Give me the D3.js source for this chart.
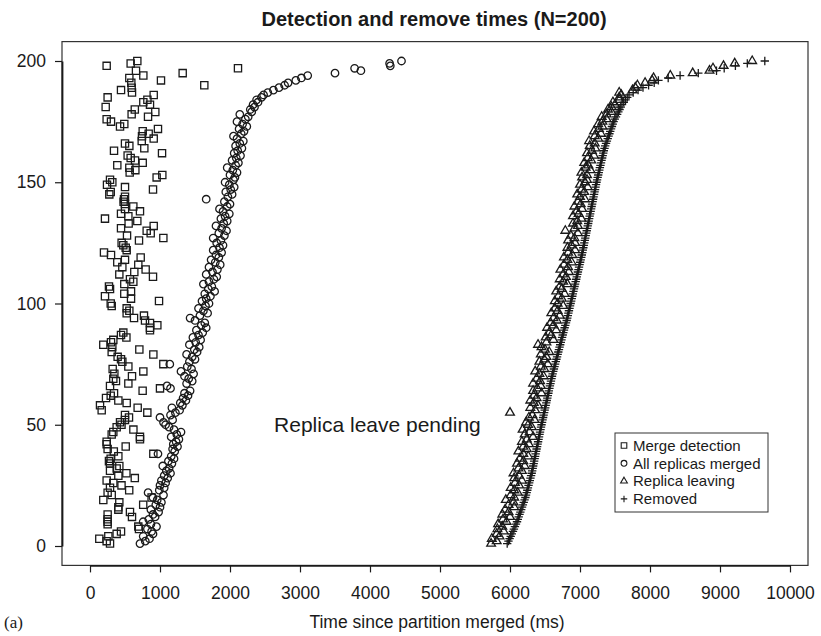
<!DOCTYPE html>
<html><head><meta charset="utf-8">
<script src="https://cdn.jsdelivr.net/npm/d3@7"></script>
<style>body{margin:0;background:#fff}svg{display:block;font-family:"Liberation Sans",Arial,Helvetica,sans-serif}</style>
</head><body><svg id="c" width="821" height="636"></svg>
<script>
// y = experiment index (1..200, ordered by removal time); values = time in ms
const mergeDetection = [
286,238,133,262,381,443,700,690,252,252,
252,600,252,571,405,405,760,419,190,880,
310,252,560,286,450,333,238,640,405,520,
286,381,419,286,271,295,405,905,340,252,
510,238,238,714,714,310,333,620,381,450,
429,500,557,500,819,167,681,143,524,405,
229,296,343,752,1000,286,548,371,333,600,
348,762,324,548,1048,462,443,395,905,310,
705,319,190,300,333,520,443,476,857,857,
962,857,786,629,771,524,562,524,310,296,
986,586,214,490,586,286,271,490,619,571,
900,419,633,795,462,690,390,500,724,300,
200,524,510,476,452,700,1048,529,867,810,
443,910,552,676,214,548,443,714,500,619,
500,480,486,500,276,296,900,500,243,319,
286,952,1033,567,648,562,390,753,643,581,
538,1029,343,776,562,500,739,910,743,838,
753,971,429,490,300,238,829,595,933,640,
224,857,762,820,252,910,600,443,595,1633,
590,1014,562,762,1324,657,2114,238,581,676];

const allReplicasMerged = [
714,790,850,760,900,880,820,950,870,760,
840,930,900,980,870,1000,940,1020,960,900,
1050,830,990,1060,1000,1080,1020,1110,1060,1150,
1090,1130,1040,1170,1120,1200,1160,971,1210,1180,
1250,1190,1230,1270,1160,1240,1300,1200,1130,1080,
1050,1180,1000,1150,1220,1280,1170,1320,1290,1370,
1330,1400,1350,1430,1150,1100,1380,1460,1410,1350,
1480,1300,1450,1390,1140,1420,1500,1460,1380,1530,
1490,1560,1420,1510,1580,1470,1550,1610,1520,1660,
1590,1640,1500,1430,1570,1680,1620,1550,1650,1700,
1600,1660,1720,1640,1780,1690,1740,1620,1700,1770,
1810,1660,1750,1820,1700,1860,1790,1730,1840,1800,
1880,1760,1850,1900,1810,1870,1760,1920,1840,1950,
1880,1800,1910,1960,1870,1930,1990,1900,1850,1960,
2000,1920,1660,1970,2030,1940,2010,2060,1990,1930,
2050,2070,2000,2100,2040,1960,2080,2120,2030,2090,
2150,2060,2110,2170,2080,2140,2190,2100,2050,2160,
2200,2130,2240,2180,2100,2220,2260,2140,2310,2290,
2350,2330,2400,2380,2450,2480,2540,2620,2700,2780,
2830,2940,3020,3110,3500,3870,3780,4290,4280,4450];

const replicaLeaving = [
5730,5810,5740,5850,5810,5910,5820,5890,5830,5950,
5900,6000,5890,5980,5930,6060,5980,6050,5940,6060,
6010,6110,6060,6010,6130,6070,6170,6060,6130,6050,
6170,6120,6210,6100,6190,6140,6260,6190,6120,6240,
6190,6270,6170,6240,6330,6210,6280,6180,6310,6260,
6230,6350,6270,6320,6000,6360,6290,6400,6340,6290,
6380,6340,6450,6330,6390,6440,6330,6430,6380,6480,
6420,6360,6490,6440,6540,6420,6490,6520,6440,6560,
6500,6450,6400,6520,6620,6510,6590,6560,6660,6530,
6620,6580,6670,6620,6710,6590,6680,6640,6760,6680,
6640,6740,6690,6780,6660,6740,6710,6820,6760,6710,
6800,6760,6840,6720,6830,6770,6880,6820,6770,6890,
6830,6930,6820,6880,6930,6830,6920,6870,6970,6790,
6920,6970,6900,6960,7020,6900,6980,6950,7030,6920,
7010,6970,7070,7000,6960,7060,7020,7110,7000,7070,
7100,7030,7100,7020,7150,7080,7120,7060,7160,7110,
7200,7100,7170,7220,7140,7210,7130,7260,7210,7300,
7200,7270,7320,7260,7320,7380,7310,7380,7450,7400,
7450,7500,7470,7560,7560,7590,7560,7750,7790,7820,
7930,8030,8050,8290,8610,8850,8900,9050,9210,9460];

const removed = [
5960,5978,5994,6010,6026,6042,6056,6070,6085,6100,
6112,6124,6136,6148,6160,6172,6184,6196,6208,6220,
6229,6238,6247,6256,6265,6274,6283,6292,6301,6310,
6317,6324,6331,6338,6345,6352,6359,6366,6373,6380,
6387,6394,6401,6408,6415,6422,6429,6436,6443,6450,
6458,6465,6473,6480,6488,6495,6503,6510,6518,6525,
6533,6540,6548,6555,6563,6570,6578,6585,6593,6600,
6609,6618,6627,6636,6645,6654,6663,6672,6681,6690,
6699,6708,6717,6726,6735,6744,6753,6762,6771,6780,
6790,6800,6810,6818,6826,6834,6842,6850,6858,6866,
6874,6882,6890,6898,6906,6914,6922,6930,6938,6946,
6954,6962,6970,6978,6986,6994,7002,7010,7018,7026,
7033,7040,7047,7054,7061,7068,7075,7082,7089,7096,
7103,7110,7117,7124,7131,7138,7145,7152,7159,7166,
7173,7180,7187,7194,7201,7208,7215,7222,7229,7236,
7244,7252,7260,7268,7276,7284,7292,7300,7308,7316,
7324,7332,7340,7350,7360,7372,7384,7396,7408,7420,
7432,7444,7456,7468,7480,7497,7514,7531,7548,7565,
7582,7600,7625,7650,7675,7700,7760,7830,7900,7980,
8060,8120,8260,8430,8690,8950,9060,9220,9390,9640];

const seriesNames = ["Merge detection", "All replicas merged", "Replica leaving", "Removed"];
const xTicks = [0,1000,2000,3000,4000,5000,6000,7000,8000,9000,10000];
const yTicks = [0,50,100,150,200];

const ink = "#1a1a1a";
const svg = d3.select("#c");
const x = d3.scaleLinear().domain([0, 10000]).range([90, 790]);
const y = d3.scaleLinear().domain([0, 200]).range([546, 61]);
const fx0 = x(-400), fx1 = 808, fy0 = y(208), fy1 = y(-8);

const plusType = { draw(ctx, size) { const r = Math.sqrt(size) / 2; ctx.moveTo(-r, 0); ctx.lineTo(r, 0); ctx.moveTo(0, -r); ctx.lineTo(0, r); } };
const triType = { draw(ctx, size) { const s = Math.sqrt(size); const h = s * Math.sqrt(3) / 2; ctx.moveTo(0, -h * 2 / 3); ctx.lineTo(s / 2, h / 3); ctx.lineTo(-s / 2, h / 3); ctx.closePath(); } };
const sqType = { draw(ctx, size) { const r = Math.sqrt(size) / 2; ctx.rect(-r, -r, 2 * r, 2 * r); } };
const circType = { draw(ctx, size) { const r = Math.sqrt(size) / 2; ctx.moveTo(r, 0); ctx.arc(0, 0, r, 0, 2 * Math.PI); } };

const series = [
  { name: seriesNames[0], values: mergeDetection, type: sqType, size: 52 },
  { name: seriesNames[1], values: allReplicasMerged, type: circType, size: 56 },
  { name: seriesNames[2], values: replicaLeaving, type: triType, size: 76 },
  { name: seriesNames[3], values: removed, type: plusType, size: 70 }
];

// frame
svg.append("rect").attr("x", fx0).attr("y", fy0).attr("width", fx1 - fx0).attr("height", fy1 - fy0)
  .attr("fill", "none").attr("stroke", "#333").attr("stroke-width", 1.2);

// axes
const gx = svg.append("g").attr("transform", `translate(0,${fy1})`)
  .call(d3.axisBottom(x).tickValues(xTicks).tickFormat(d3.format("d")).tickSize(7).tickSizeOuter(0).tickPadding(14));
const gy = svg.append("g").attr("transform", `translate(${fx0},0)`)
  .call(d3.axisLeft(y).tickValues(yTicks).tickFormat(d3.format("d")).tickSize(7).tickSizeOuter(0).tickPadding(9));
[gx, gy].forEach(g => {
  g.select(".domain").attr("stroke", ink).attr("stroke-width", 1.8);
  g.selectAll(".tick line").attr("stroke", ink).attr("stroke-width", 1.2);
  g.selectAll(".tick text").attr("fill", ink).style("font-size", "17.5px").style("font-family", '"Liberation Sans",Arial,sans-serif');
});

// points
series.forEach(s => {
  const sym = d3.symbol().type(s.type).size(s.size);
  svg.append("g").selectAll("path").data(s.values).join("path")
    .attr("transform", (d, i) => `translate(${x(d)},${y(i + 1)})`)
    .attr("d", sym)
    .attr("fill", "none").attr("stroke", ink).attr("stroke-width", 1.3);
});

// annotation
svg.append("text").attr("x", x(2630)).attr("y", y(50) + 7).attr("fill", ink)
  .style("font-size", "21px").text("Replica leave pending");

// title & labels
svg.append("text").attr("x", 434).attr("y", 26).attr("text-anchor", "middle").attr("fill", ink)
  .style("font-size", "20px").style("font-weight", "bold").text("Detection and remove times (N=200)");
svg.append("text").attr("x", 437).attr("y", 628).attr("text-anchor", "middle").attr("fill", ink)
  .style("font-size", "17.5px").text("Time since partition merged (ms)");
svg.append("text").attr("x", 4).attr("y", 628).attr("fill", ink)
  .style("font-size", "17px").style("font-family", '"Liberation Serif","Times New Roman",serif').text("(a)");

// legend
const lg = svg.append("g").attr("transform", "translate(615,433)");
lg.append("rect").attr("width", 153).attr("height", 79).attr("fill", "#fff").attr("stroke", "#333").attr("stroke-width", 1);
series.forEach((s, i) => {
  const cy = 12.5 + i * 17.8;
  lg.append("path").attr("transform", `translate(9,${cy})`)
    .attr("d", d3.symbol().type(s.type).size(s.size * 0.6)).attr("fill", "none").attr("stroke", ink).attr("stroke-width", 1.1);
  lg.append("text").attr("x", 18).attr("y", cy + 5.2).attr("fill", ink).style("font-size", "15px").text(s.name);
});
</script></body></html>
